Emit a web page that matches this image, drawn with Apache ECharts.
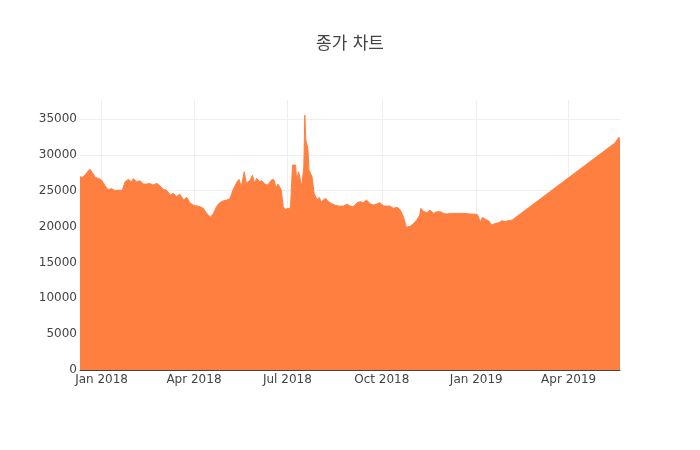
<!DOCTYPE html>
<html><head><meta charset="utf-8">
<script src="https://cdn.jsdelivr.net/npm/echarts@6/dist/echarts.min.js"></script>
<style>html,body{margin:0;padding:0;background:#fff}#c{width:700px;height:450px}</style>
</head><body><div id="c"></div>
<script>
const chartTitle = '종가 차트';
const dates = [
'2017-12-11','2017-12-13','2017-12-16','2017-12-19','2017-12-21','2017-12-23','2017-12-26','2017-12-29',
'2018-01-01','2018-01-04','2018-01-07','2018-01-11','2018-01-14','2018-01-17','2018-01-21','2018-01-24','2018-01-27','2018-01-30',
'2018-02-01','2018-02-04','2018-02-07','2018-02-11','2018-02-14','2018-02-17','2018-02-20','2018-02-24','2018-02-27',
'2018-03-02','2018-03-05','2018-03-09','2018-03-12','2018-03-15','2018-03-18','2018-03-22','2018-03-25','2018-03-28','2018-03-31',
'2018-04-04','2018-04-07','2018-04-10','2018-04-13','2018-04-17','2018-04-20','2018-04-23','2018-04-26','2018-04-30',
'2018-05-03','2018-05-06','2018-05-09','2018-05-13','2018-05-15','2018-05-17','2018-05-20','2018-05-22','2018-05-26','2018-05-28','2018-05-30',
'2018-06-01','2018-06-04','2018-06-06','2018-06-09','2018-06-12','2018-06-16','2018-06-18','2018-06-20','2018-06-22','2018-06-25','2018-06-27','2018-06-29',
'2018-07-02','2018-07-04','2018-07-06','2018-07-09','2018-07-10','2018-07-12','2018-07-15','2018-07-17','2018-07-18','2018-07-19','2018-07-21','2018-07-22','2018-07-25','2018-07-27','2018-07-30',
'2018-08-01','2018-08-03','2018-08-07','2018-08-10','2018-08-13','2018-08-16','2018-08-20','2018-08-21','2018-08-25','2018-08-28','2018-08-31',
'2018-09-03','2018-09-07','2018-09-10','2018-09-13','2018-09-16','2018-09-20','2018-09-23','2018-09-26','2018-09-29',
'2018-10-03','2018-10-06','2018-10-09','2018-10-12','2018-10-16','2018-10-17','2018-10-19','2018-10-22','2018-10-25','2018-10-29',
'2018-11-01','2018-11-04','2018-11-07','2018-11-08','2018-11-11','2018-11-14','2018-11-17','2018-11-20','2018-11-24','2018-11-27','2018-11-30',
'2018-12-03','2018-12-07','2018-12-13','2018-12-20','2018-12-26',
'2019-01-02','2019-01-05','2019-01-07','2019-01-10','2019-01-13','2019-01-16','2019-01-20','2019-01-23','2019-01-26','2019-01-29',
'2019-02-01','2019-02-05',
'2019-05-16','2019-05-20','2019-05-21'
];
const closes = [
26950,26860,27180,27790,27970,27510,26860,26720,
26490,25790,25180,25280,25000,25090,25000,26250,26580,26250,
26670,26250,26390,25930,25930,26020,25790,26020,25650,
25180,25090,24400,24630,24160,24540,23700,24070,23330,23000,
22860,22770,22540,21930,21300,21840,22770,23330,23600,
23700,23880,25090,26250,26580,25460,27650,26020,26490,27180,26020,
26720,26250,26390,25930,25790,26580,26490,25460,25930,25090,22770,22400,
22540,22540,28580,28580,26490,27650,25560,28350,35550,32060,30900,27880,26950,24630,23700,
24070,23470,23930,23470,23230,23000,22860,22860,22860,23140,22860,
22770,23330,23470,23330,23700,23140,23000,23140,23330,
22860,22860,22860,22540,22680,22770,22300,21370,19880,20070,
20450,20910,21610,22540,22070,21930,22300,21840,22070,22070,21840,
21750,21840,21840,21840,21750,
21700,20680,21280,21000,20820,20210,20450,20540,20820,20680,
20820,20910,
31650,32450,32050
];
const xTickDates = ['2018-01-01','2018-04-01','2018-07-01','2018-10-01','2019-01-01','2019-04-01'];
const xTickLabels = ['Jan 2018','Apr 2018','Jul 2018','Oct 2018','Jan 2019','Apr 2019'];
const yMax = 37650;
const yStep = 5000;

const toMs = s => { const p = s.split('-').map(Number); return Date.UTC(p[0], p[1]-1, p[2]); };
const tickMs = xTickDates.map(toMs);
const fill = '#ff7f41';
const chart = echarts.init(document.getElementById('c'), null, {renderer:'canvas'});
chart.setOption({
  animation:false,
  title:{text:chartTitle,left:'center',top:31,textStyle:{fontSize:17,fontWeight:'normal',color:'#444',fontFamily:'"DejaVu Sans","Noto Sans CJK KR",sans-serif'}},
  grid:{left:80,right:80,top:100,bottom:80},
  xAxis:{type:'value',min:toMs(dates[0]),max:toMs(dates[dates.length-1]),
    axisLine:{show:true,onZero:false,lineStyle:{color:'#444',width:1}},
    axisTick:{show:true,length:0,customValues:tickMs},
    axisLabel:{customValues:tickMs,formatter:function(v){const i=tickMs.indexOf(+v);return i>=0?xTickLabels[i]:'';},color:'#444',fontSize:12,fontFamily:'"DejaVu Sans",sans-serif',margin:4,hideOverlap:false},
    splitLine:{show:true,lineStyle:{color:'#eee',width:1}}
  },
  yAxis:{type:'value',min:0,max:yMax,interval:yStep,
    axisLine:{show:false},axisTick:{show:false},
    axisLabel:{color:'#444',fontSize:12,fontFamily:'"DejaVu Sans",sans-serif',margin:3,showMaxLabel:false,formatter:function(v){return String(v);}},
    splitLine:{show:true,showMaxLine:false,lineStyle:{color:'#eee',width:1}}
  },
  series:[{type:'line',data:dates.map((d,i)=>[toMs(d),closes[i]]),showSymbol:false,symbol:'none',
    lineStyle:{color:fill,width:1},areaStyle:{color:fill,opacity:1},itemStyle:{color:fill}}]
});
</script></body></html>
